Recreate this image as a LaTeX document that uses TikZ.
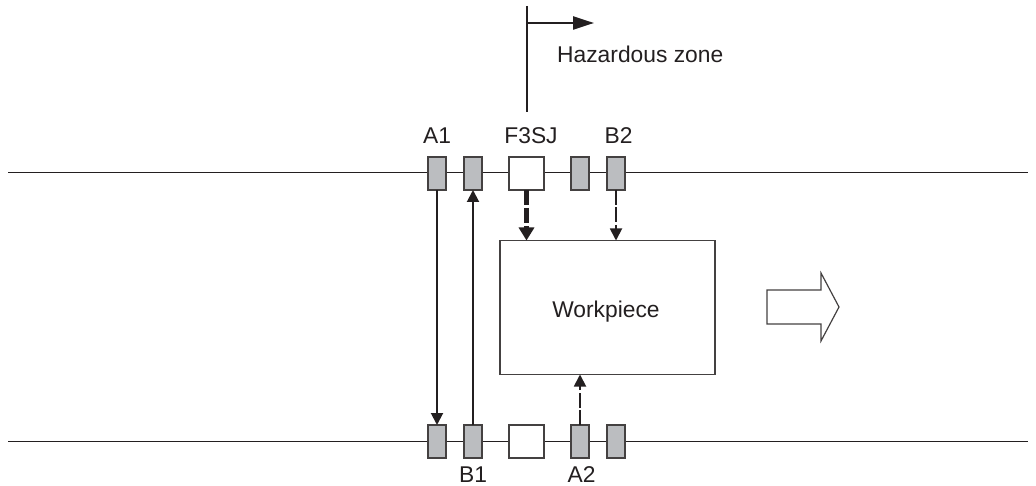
\documentclass[tikz,border=0pt]{standalone}
\usepackage{fontspec}
\setmainfont{Liberation Sans}
\usetikzlibrary{arrows.meta}
\definecolor{sensorgray}{HTML}{BBBDC0}
\definecolor{ink}{HTML}{231F20}
\tikzset{
  x=1pt,y=-1pt,
  railline/.style={draw=ink,line width=1.2pt},
  sensorbox/.style={draw=ink!85,line width=1.5pt,fill=sensorgray,minimum width=18pt,minimum height=33pt,inner sep=0pt,outer sep=0pt},
  unitbox/.style={draw=ink!85,line width=1.5pt,fill=white,minimum width=35pt,minimum height=33pt,inner sep=0pt,outer sep=0pt},
  lbl/.style={font=\fontsize{22.8}{26}\selectfont,text=ink,inner sep=0pt,anchor=base},
  solidarrow/.style={draw=ink,line width=2pt,-{Triangle[length=12pt,width=12pt]}},
  thinbeam/.style={draw=ink,line width=1.8pt,dash pattern=on 15pt off 2.5pt,-{Triangle[length=12pt,width=12pt]}},
  thickbeam/.style={draw=ink,line width=5pt,dash pattern=on 15pt off 3pt,-{Triangle[length=13pt,width=15pt]}},
}
\begin{document}
\begin{tikzpicture}
\useasboundingbox (0,0) rectangle (1036,486);
% rails
\coordinate (railTL) at (8,172.5);
\coordinate (railTR) at (1028,172.5);
\coordinate (railBL) at (8,441.5);
\coordinate (railBR) at (1028,441.5);
\draw[railline] (railTL) -- (railTR);
\draw[railline] (railBL) -- (railBR);
% top row
\node[sensorbox] (ta1) at (437,173.5) {};
\node[sensorbox] (tb1) at (473,173.5) {};
\node[unitbox]   (tf)  at (526.5,173.5) {};
\node[sensorbox] (ta2) at (580,173.5) {};
\node[sensorbox] (tb2) at (616,173.5) {};
% bottom row
\node[sensorbox] (ba1) at (437,441.5) {};
\node[sensorbox] (bb1) at (473,441.5) {};
\node[unitbox]   (bf)  at (526.5,441.5) {};
\node[sensorbox] (ba2) at (580,441.5) {};
\node[sensorbox] (bb2) at (616,441.5) {};
% workpiece
\node[draw=ink!85,line width=1.5pt,fill=white,minimum width=215pt,minimum height=134pt,inner sep=0pt,outer sep=0pt] (wp) at (607.5,307.5) {};
\node[lbl] (wptext) at (606,317) {Workpiece};
% labels
\node[lbl] (la1) at (437,144) {A1};
\node[lbl] (lf)  at (531,144) {F3SJ};
\node[lbl] (lb2) at (618.5,144) {B2};
\node[lbl] (lb1) at (473,482.5) {B1};
\node[lbl] (la2) at (581.5,482.5) {A2};
\node[lbl,anchor=base west] (lhz) at (557,63) {Hazardous zone};
% connectors
\draw[solidarrow] (ta1.south) -- (ba1.north);
\draw[solidarrow] (bb1.north) -- (tb1.south);
\draw[thickbeam] (tf.south) -- (tf.south |- wp.north);
\draw[thinbeam] (tb2.south) -- (tb2.south |- wp.north);
\draw[thinbeam] (ba2.north) -- (ba2.north |- wp.south);
% hazardous zone marker
\coordinate (hzT) at (527,6);
\coordinate (hzB) at (527,112);
\coordinate (hzJ) at (527,23);
\coordinate (hzE) at (594,23);
\draw[draw=ink,line width=2.3pt] (hzT) -- (hzB);
\draw[draw=ink,line width=2.3pt,-{Triangle[length=21pt,width=13pt]}] (hzJ) -- (hzE);
% travel direction arrow
\draw[draw=ink!85,line width=1.2pt,fill=white,line join=miter]
  (767,290) -- (821,290) -- (821,273) -- (839,307) -- (821,341) -- (821,324) -- (767,324) -- cycle;
\end{tikzpicture}
\end{document}
